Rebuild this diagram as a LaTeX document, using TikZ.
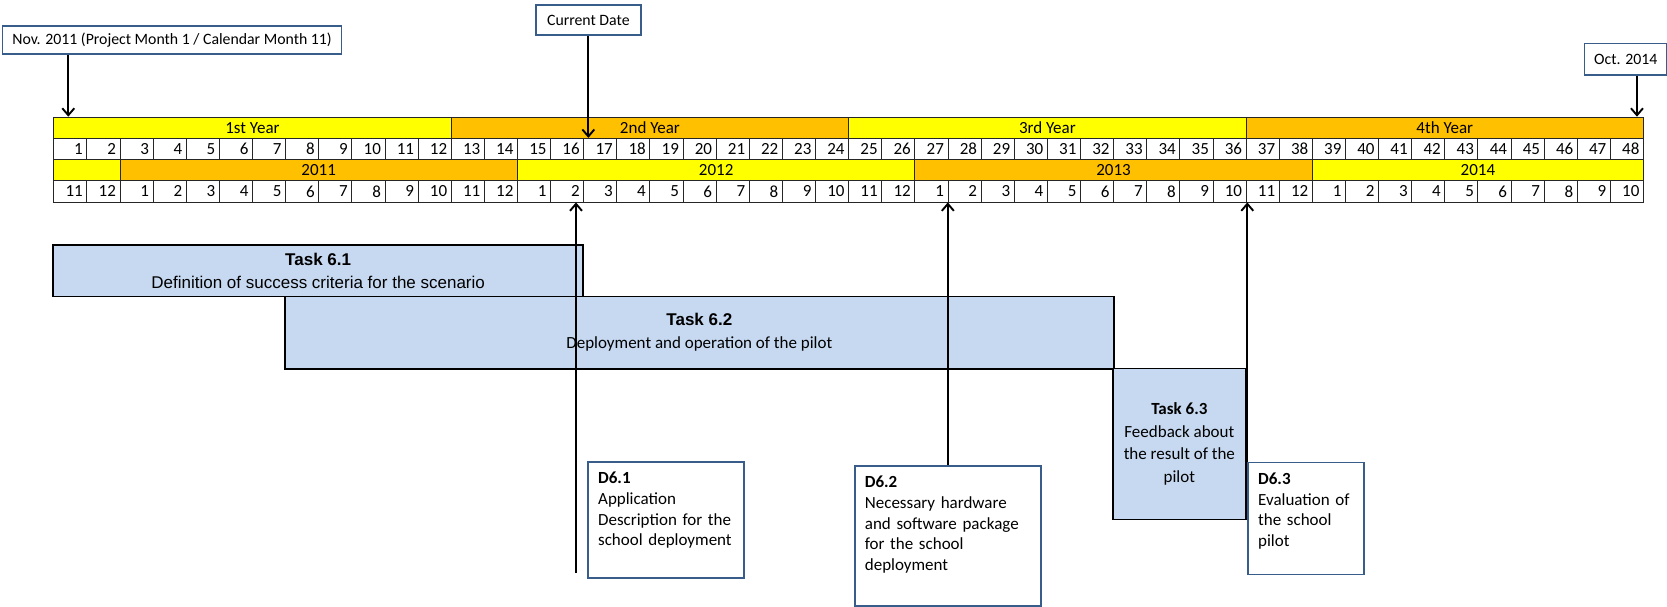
\documentclass[tikz,border=0pt]{standalone}
\usepackage{fontspec}
\setmainfont{Carlito}
\newfontfamily\arialfont{Liberation Sans}
\usetikzlibrary{positioning,arrows.meta}

\definecolor{ylw}{HTML}{FFFF00}
\definecolor{orng}{HTML}{FFC000}
\definecolor{taskblue}{HTML}{C6D9F1}
\definecolor{frameblue}{HTML}{385D8A}

\tikzset{
  band/.style={draw=black!85,line width=0.9pt,minimum height=21.2pt,inner sep=0pt,anchor=north west,font=\fontsize{17}{20}\selectfont},
  num/.style={band,fill=white,minimum width=33.12pt,text width=25pt,inner xsep=4pt,align=right},
  lbl/.style={draw=frameblue,line width=1.7pt,fill=white,inner sep=0pt,anchor=north west,font=\fontsize{15.8}{19}\selectfont},
  task/.style={draw=black,line width=1.7pt,fill=taskblue,inner sep=0pt,anchor=north west,align=center,font=\fontsize{17}{23}\selectfont},
  deliv/.style={draw=frameblue,line width=1.7pt,fill=white,anchor=north west,align=left,inner xsep=10pt,inner ysep=10pt,text height=12pt,font=\fontsize{17}{20.7}\selectfont}
}

\begin{document}
\begin{tikzpicture}[x=1pt,y=-1pt,->,>={Straight Barb[length=7pt,width=12pt]},line width=1.9pt]
\useasboundingbox (0,0) rectangle (1667,607);

% project years and calendar years
\foreach \n/\txt/\col in {0/1st Year/ylw,1/2nd Year/orng,2/3rd Year/ylw,3/4th Year/orng}
  \node[band,fill=\col,minimum width=397.44pt](y\n) at ({53.3+\n*397.44},116.7){\txt};
\node[band,fill=ylw,minimum width=66.24pt](k0) at (53.3,159.1){};
\foreach \s/\w/\txt/\col in {2/12/2011/orng,14/12/2012/ylw,26/12/2013/orng,38/10/2014/ylw}
  \node[band,fill=\col,minimum width=\w*33.12pt](k\txt) at ({53.3+\s*33.12},159.1){\txt};
\foreach \i in {1,...,48}{
  \pgfmathtruncatemacro\cal{mod(\i+9,12)+1}
  \node[num](p\i) at ({53.3+(\i-1)*33.12},137.9){\i};
  \node[num](c\i) at ({53.3+(\i-1)*33.12},180.3){\cal};
}

\node[lbl,minimum width=339pt,minimum height=28pt](nov) at (1.7,25){Nov. 2011 (Project Month 1 / Calendar Month 11)};
\node[lbl,minimum width=105pt,minimum height=30.3pt](cur) at (535,4){Current Date};
\node[lbl,minimum width=82.3pt,minimum height=31.3pt](oct) at (1583.7,42.7){Oct. 2014};

% tasks
\node[task,minimum width=530pt,minimum height=51.7pt](t61) at (52.3,244){{\arialfont\bfseries Task 6.1}\\{\arialfont Definition of success criteria for the scenario}};
\node[task,minimum width=829pt,minimum height=72.5pt](t62) at (284,295.5){{\arialfont\bfseries Task 6.2}\\Deployment and operation of the pilot};
\node[task,minimum width=133pt,minimum height=151pt,font=\fontsize{17}{22.7}\selectfont](t63) at (1112,367.5){\textbf{Task 6.3}\\Feedback about\\the result of the\\pilot};

% deliverables
\node[deliv,text width=136pt,text depth=84pt](d61) at (587.3,461){\textbf{D6.1}\\Application\\Description for the\\school deployment};
\node[deliv,text width=166pt,text depth=108pt](d62) at (854,465){\textbf{D6.2}\\Necessary hardware\\and software package\\for the school\\deployment};
\node[deliv,text width=96pt,text depth=80pt](d63) at (1247.3,461.7){\textbf{D6.3}\\Evaluation of\\the school\\pilot};

\coordinate(novtip) at ([xshift=15pt]y0.north west);
\coordinate(octtip) at ([xshift=-7pt]y3.north east);
\coordinate(d61end) at (576,573);
\draw(novtip |- nov.south)--(novtip);
\draw(cur.south)--(cur.south |- p17.north);
\draw(octtip |- oct.south)--(octtip);
\draw(d61end)--(d61end |- c16.south);
\draw(d62.north)--(d62.north |- c27.south);
\draw(d63.north west)--(d63.north west |- c37.south);

\end{tikzpicture}
\end{document}
